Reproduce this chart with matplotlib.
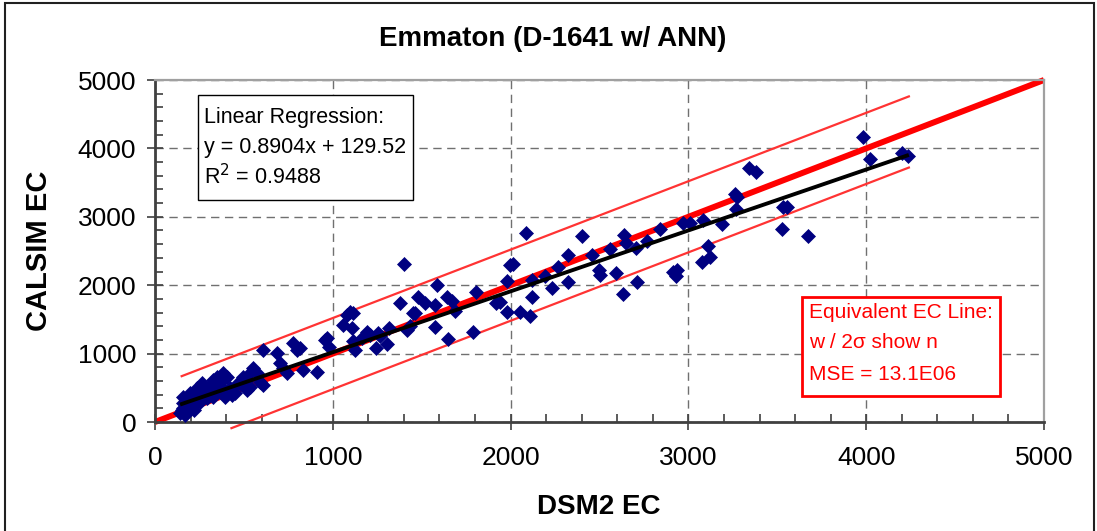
import matplotlib
matplotlib.use("Agg")
import matplotlib.pyplot as plt
from matplotlib.patches import Rectangle
from matplotlib.ticker import MultipleLocator

plt.rcParams['font.family'] = ['Liberation Sans', 'DejaVu Sans']

# DSM2 EC (x) vs CALSIM EC (y)
dsm2_ec = [141, 150, 169, 159, 159, 178, 178, 187, 197, 197, 216, 216, 234, 234, 253, 253,
           262, 272, 291, 291, 309, 328, 328, 347, 366, 384, 394, 407, 431, 450,
           200, 240, 270, 300, 350, 420, 460, 380, 310, 260, 180, 220, 160,
           478, 497, 516, 516, 534, 534, 553, 572, 591, 609, 609,
           684, 703, 722, 741, 778, 797, 816, 834, 909, 956, 966, 981,
           1059, 1078, 1097, 1115, 1106, 1115, 1125, 1162, 1190, 1209, 1243, 1256, 1265, 1307, 1318,
           1378, 1402, 1416, 1434, 1453, 1462, 1481, 1518, 1575, 1575, 1584, 1640, 1646, 1668,
           1687, 1790, 1805, 1918,
           1940, 1982, 1982, 1997, 2012, 2053, 2087, 2109, 2119, 2119, 2194, 2231, 2269, 2321,
           2325, 2400, 2456, 2499, 2503, 2559, 2593, 2630, 2638, 2649, 2705, 2713, 2769, 2840,
           2915, 2934, 2930, 2971,
           3009, 3075, 3084, 3112, 3122, 3191, 3262, 3275, 3268, 3343, 3380, 3525, 3530, 3553,
           3675, 3983, 4021, 4200, 4237]
calsim_ec = [127, 175, 102, 273, 370, 297, 151, 200, 322, 419, 370, 249, 395, 492, 419, 297,
             565, 492, 468, 346, 516, 614, 370, 662, 565, 712, 370, 653, 395, 419,
             250, 300, 380, 420, 450, 500, 560, 480, 400, 340, 220, 180, 200,
             565, 662, 614, 468, 712, 516, 785, 712, 589, 541, 1053,
             1004, 858, 785, 712, 1151, 1053, 1082, 760, 735, 1199, 1228, 1101,
             1418, 1564, 1613, 1590, 1370, 1189, 1053, 1224, 1320, 1272, 1077, 1305, 1257, 1140, 1370,
             1744, 2310, 1345, 1404, 1589, 1598, 1823, 1744, 1711, 1384, 2003, 1832, 1209, 1773,
             1623, 1320, 1905, 1744,
             1759, 2061, 1613, 2295, 2310, 1613, 2759, 1550, 1823, 2076, 2135, 1963, 2271, 2441,
             2051, 2724, 2441, 2222, 2149, 2525, 2174, 1871, 2734, 2612, 2549, 2051, 2646, 2817,
             2197, 2222, 2134, 2905,
             2909, 2344, 2953, 2573, 2408, 2890, 3333, 3290, 3110, 3718, 3659, 2817, 3139, 3148,
             2724, 4162, 3841, 3928, 3889]

# regression and equivalence lines
reg_slope = 0.8904
reg_intercept = 129.52
reg_x = [141, 4240]
equiv_x = [0, 5000]
sigma_offset = 520
upper_x = [150, 4240]
lower_x = [430, 4240]

W, H = 1097, 531
fig = plt.figure(figsize=(W / 100, H / 100), dpi=100)
ax = fig.add_axes([155 / W, 1 - 422 / H, (1044 - 155) / W, (422 - 80) / H])

def fx(px):
    return px / W

def fy(py):
    return 1 - py / H

red = '#ff0000'
ax.plot(equiv_x, equiv_x, color=red, lw=4.3, solid_capstyle='butt', zorder=2, clip_on=False)
ax.plot(upper_x, [v + sigma_offset for v in upper_x], color='#ff3333', lw=1.6, zorder=2.5, clip_on=False)
ax.plot(lower_x, [v - sigma_offset for v in lower_x], color='#ff3333', lw=1.6, zorder=2.5, clip_on=False)
ax.plot(dsm2_ec, calsim_ec, linestyle='none', marker='D', markersize=7.2,
        markerfacecolor='#000080', markeredgecolor='#000080', markeredgewidth=0.5, zorder=3)
ax.plot(reg_x, [reg_slope * v + reg_intercept for v in reg_x], color='black', lw=2.8,
        solid_capstyle='butt', zorder=4)

ax.set_xlim(0, 5000)
ax.set_ylim(0, 5000)
ax.xaxis.set_major_locator(MultipleLocator(1000))
ax.yaxis.set_major_locator(MultipleLocator(1000))
ax.xaxis.set_minor_locator(MultipleLocator(200))
ax.yaxis.set_minor_locator(MultipleLocator(200))
ax.grid(True, which='major', color='#707070', linestyle=(0, (6, 4)), lw=1)
ax.set_axisbelow(True)
ax.tick_params(which='major', direction='inout', length=11, width=1.2, color='#404040',
               labelsize=19, pad=12)
ax.tick_params(which='minor', direction='in', length=6, width=1.2, color='#404040')
ax.tick_params(axis='y', which='major', pad=8)

for s in ['left', 'bottom']:
    ax.spines[s].set_color('#404040')
    ax.spines[s].set_linewidth(2)
for s in ['top', 'right']:
    ax.spines[s].set_color('#a0a0a0')
    ax.spines[s].set_linewidth(1.6)

fig.text(fx(553), fy(39), 'Emmaton (D-1641 w/ ANN)', ha='center', va='center',
         fontsize=20, fontweight='bold')
fig.text(fx(599), fy(507), 'DSM2 EC', ha='center', va='center', fontsize=20, fontweight='bold')
fig.text(fx(39), fy(251), 'CALSIM EC', ha='center', va='center', rotation=90,
         fontsize=21, fontweight='bold')

# regression text box
fig.patches.append(Rectangle((fx(198), fy(200)), (413 - 198) / W, (200 - 95) / H,
                             transform=fig.transFigure, facecolor='white', edgecolor='black',
                             lw=1, zorder=5))
for i, line in enumerate(['Linear Regression:', 'y = 0.8904x + 129.52', 'R$^2$ = 0.9488']):
    fig.text(fx(204), fy(117 + 30 * i), line, ha='left', va='center', fontsize=15.5, zorder=6)

# equivalence text box
fig.patches.append(Rectangle((fx(802), fy(396)), (1000 - 802) / W, (396 - 297) / H,
                             transform=fig.transFigure, facecolor='white', edgecolor=red,
                             lw=2, zorder=5))
for i, line in enumerate(['Equivalent EC Line:', 'w / 2σ show n', 'MSE = 13.1E06']):
    fig.text(fx(809), fy(312 + 31 * i), line, ha='left', va='center', fontsize=15, color=red, zorder=6)

# outer chart frame
fig.patches.append(Rectangle((fx(5), -0.1), (1094 - 5) / W, 1.1 - 3 / H,
                             transform=fig.transFigure, facecolor='none', edgecolor='#202020',
                             lw=1.5, zorder=0))

fig.savefig('out.png', dpi=100)
